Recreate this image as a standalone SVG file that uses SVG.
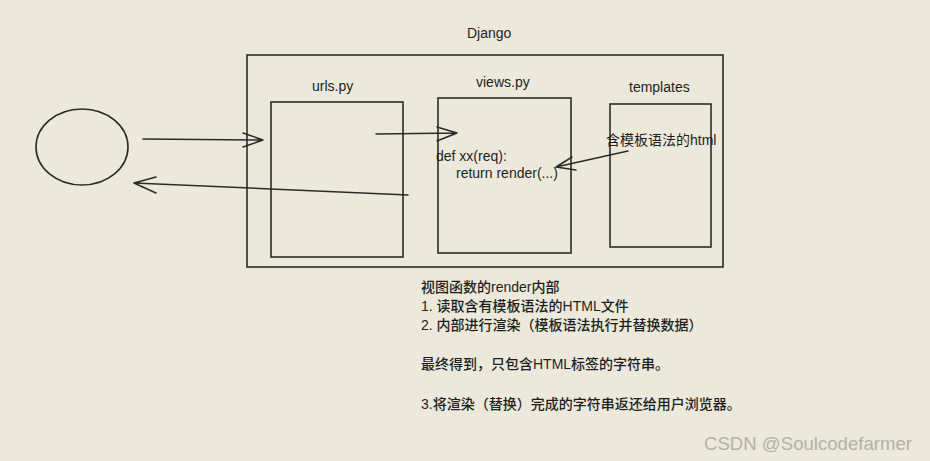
<svg xmlns="http://www.w3.org/2000/svg" width="930" height="461" viewBox="0 0 930 461">
<style>
.bg{fill:#ece9da}
.box{fill:none;stroke:#2b2b2b;stroke-width:1.6}
.ln{fill:none;stroke:#2b2b2b;stroke-width:1.5;stroke-linecap:round;stroke-linejoin:round}
.t{font-family:"Liberation Sans","Noto Sans CJK SC",sans-serif;font-size:14px;fill:#1e1e1e}
.n{font-weight:500}
.wm{font-family:"Liberation Sans","Noto Sans CJK SC",sans-serif;font-size:18.6px;fill:#b3b1a8}
</style>
<rect class="bg" x="0" y="0" width="930" height="461"/>
<g id="browser">
<ellipse class="box" cx="82" cy="147" rx="46" ry="38"/>
</g>
<g id="django">
<rect class="box" x="247" y="55" width="476" height="212"/>
<text class="t" x="467" y="38">Django</text>
</g>
<g id="urls">
<rect class="box" x="271" y="102" width="132" height="155"/>
<text class="t" x="312" y="91">urls.py</text>
</g>
<g id="views">
<rect class="box" x="438" y="98" width="133" height="155"/>
<text class="t" x="476" y="87">views.py</text>
<text class="t" x="436" y="161">def xx(req):</text>
<text class="t" x="456" y="178">return render(...)</text>
</g>
<g id="templates">
<rect class="box" x="610" y="104" width="101" height="143"/>
<text class="t" x="629" y="92">templates</text>
<text class="t" x="606" y="145">含模板语法的html</text>
</g>
<g id="connectors">
<path class="ln" d="M143 139 L263 140 M243 133 L263 140 L243 147"/>
<path class="ln" d="M376 134 L457 133 M437 127 L457 133 L437 141"/>
<path class="ln" d="M408 195 L134 183 M156 177 L134 183 L156 193"/>
<path class="ln" d="M628 151 L556 167 M572 157 L556 167 L576 170"/>
</g>
<g id="notes">
<text class="t n" x="421" y="292">视图函数的render内部</text>
<text class="t n" x="421" y="311">1. 读取含有模板语法的HTML文件</text>
<text class="t n" x="421" y="330">2. 内部进行渲染（模板语法执行并替换数据）</text>
<text class="t n" x="421" y="369">最终得到，只包含HTML标签的字符串。</text>
<text class="t n" x="421" y="409">3.将渲染（替换）完成的字符串返还给用户浏览器。</text>
</g>
<text class="wm" x="704" y="450">CSDN @Soulcodefarmer</text>
</svg>
